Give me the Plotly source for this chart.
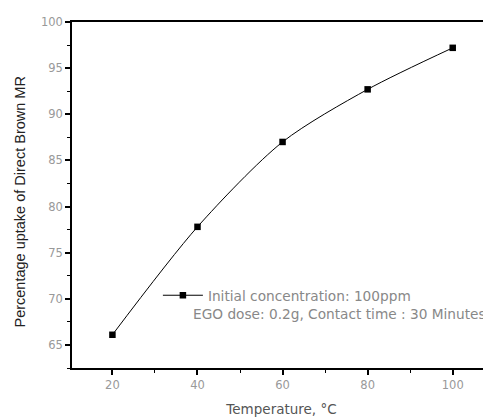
import plotly.graph_objects as go

temperature = [20, 40, 60, 80, 100]
uptake = [66.1, 77.8, 87.0, 92.7, 97.2]
series_name = "Initial concentration: 100ppm"
note = "EGO dose: 0.2g, Contact time : 30 Minutes"
y_title = "Percentage uptake of Direct Brown MR"
x_ticks = [20, 40, 60, 80, 100]
y_ticks = [65, 70, 75, 80, 85, 90, 95, 100]

fig = go.Figure()
fig.add_trace(go.Scatter(
    x=temperature, y=uptake, mode="lines+markers", name=series_name,
    line=dict(color="black", width=1, shape="spline", smoothing=0.8),
    marker=dict(symbol="square", size=6.5, color="black"),
))

tick_font = dict(family="DejaVu Sans", size=11.5, color="#999")

fig.update_xaxes(
    range=[10.5, 109], tickvals=x_ticks,
    showline=True, linecolor="black", linewidth=1.5, mirror=True,
    ticks="outside", ticklen=5, tickwidth=1.5, tickcolor="black",
    showgrid=False, zeroline=False, tickfont=tick_font,
    minor=dict(ticks="outside", ticklen=3, tickwidth=1.2, tickcolor="black", dtick=10, tick0=0),
    title=dict(text="Temperature, °C", font=dict(family="DejaVu Sans", size=13.5, color="#555"), standoff=14),
)
fig.update_yaxes(
    range=[62.5, 100], tickvals=y_ticks,
    showline=True, linecolor="black", linewidth=1.5, mirror=False,
    ticks="outside", ticklen=5, tickwidth=1.5, tickcolor="black",
    showgrid=False, zeroline=False, tickfont=tick_font,
    minor=dict(ticks="outside", ticklen=3, tickwidth=1.2, tickcolor="black", dtick=2.5, tick0=0),
)

fig.add_annotation(
    x=-0.125, y=0.48, xref="paper", yref="paper", xanchor="center", yanchor="middle",
    text=y_title, textangle=-90, showarrow=False,
    font=dict(family="Liberation Sans, Arial", size=14.5, color="#222"),
)

fig.add_annotation(
    x=0.284, y=0.156, xref="paper", yref="paper", xanchor="left", yanchor="middle",
    text=note, showarrow=False,
    font=dict(family="DejaVu Sans", size=13.7, color="#888"),
)

fig.update_layout(
    width=483, height=409,
    margin=dict(l=64, r=0, t=14, b=49),
    paper_bgcolor="white", plot_bgcolor="white",
    showlegend=True,
    legend=dict(x=0.205, y=0.21, xanchor="left", yanchor="middle", bgcolor="rgba(0,0,0,0)",
                itemwidth=40,
                font=dict(family="DejaVu Sans", size=13.7, color="#888")),
)

fig.write_html("out.html")
